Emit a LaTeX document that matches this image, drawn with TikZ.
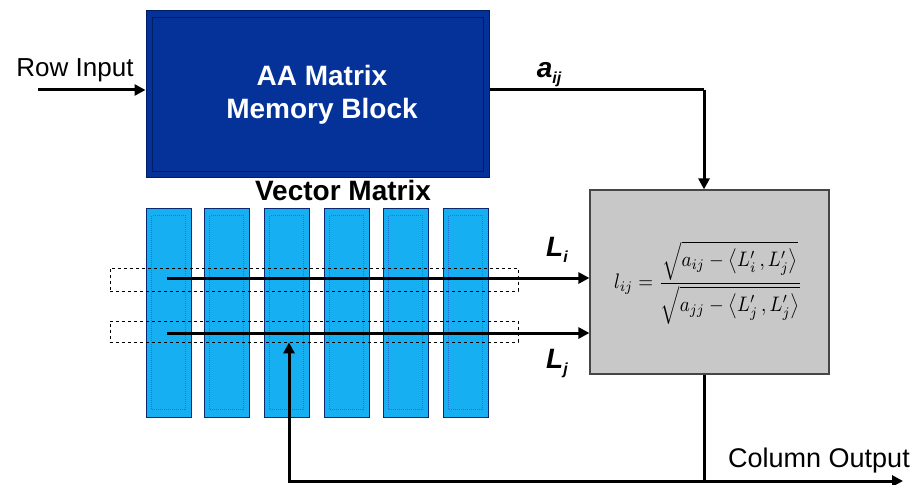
\documentclass[tikz,border=0pt]{standalone}
\usepackage{fontspec}
\setmainfont{Liberation Sans}
\usetikzlibrary{arrows.meta,calc}
\definecolor{memblue}{RGB}{4,50,152}
\definecolor{memedge}{RGB}{0,28,100}
\definecolor{colblue}{RGB}{22,176,242}
\definecolor{coledge}{RGB}{12,40,110}
\definecolor{coldot}{RGB}{30,118,214}
\definecolor{calcgray}{RGB}{200,200,200}
\definecolor{calcedge}{RGB}{70,70,70}
\tikzset{
  arr/.style={line width=3pt,-{Triangle[length=11pt,width=11pt]}},
  wire/.style={line width=3pt},
  membox/.style={draw=memedge,fill=memblue,line width=1pt,minimum width=343pt,minimum height=166pt,inner sep=0pt},
  colbox/.style={draw=coledge,fill=colblue,line width=1pt,minimum width=45pt,minimum height=209pt,inner sep=0pt},
  coldots/.style={draw=coldot,line width=1pt,densely dotted},
  rowbox/.style={draw=black,dashed,line width=0.8pt,minimum width=408pt,inner sep=0pt},
  calcbox/.style={draw=calcedge,fill=calcgray,line width=1.2pt,minimum width=239pt,minimum height=184pt,inner sep=0pt},
  lbl/.style={font=\fontsize{26}{30}\selectfont,inner sep=0pt},
  blbl/.style={font=\fontsize{28}{32}\selectfont\bfseries,inner sep=0pt},
  wlbl/.style={font=\fontsize{28}{32}\selectfont\bfseries,text=white,inner sep=0pt},
}
\begin{document}
\begin{tikzpicture}[x=1pt,y=-1pt]
\useasboundingbox (0,0) rectangle (917,484);
% memory block
\node[membox] (mem) at (317.5,94) {};
\draw[memedge,line width=0.8pt] (152,17) rectangle (483,171);
\node[wlbl,anchor=base] (memt1) at (322,86) {AA Matrix};
\node[wlbl,anchor=base] (memt2) at (322,118) {Memory Block};
% row input
\node[lbl] (rowlbl) at (75,70) {Row Input};
\coordinate (rin) at (38,90);
\draw[arr] (rin) -- (mem.west |- rin);
% a_ij
\node[inner sep=0pt] (alab) at (549,75) {\fontsize{28}{32}\selectfont\bfseries\itshape a\raisebox{-6pt}{\fontsize{16}{18}\selectfont ij}};
\coordinate (aturn) at (704,90);
% calc box
\node[calcbox] (calc) at (709.5,282) {};
\draw[wire] (mem.east |- aturn) -- (aturn);
\draw[arr] (aturn) -- (calc.north -| aturn);
\node[inner sep=0pt] (formula) at (708,283) {\scalebox{1.9}[2.1]{$\displaystyle l_{ij}=\frac{\sqrt{a_{ij}-\left\langle L'_i\,,L'_j\right\rangle}}{\sqrt{a_{jj}-\left\langle L'_j\,,L'_j\right\rangle}}$}};
% vector matrix
\node[blbl] (vmlbl) at (343,190) {Vector Matrix};
\foreach \i/\x in {1/168.5,2/226.5,3/286.5,4/346.5,5/405.5,6/465.5}{
  \node[colbox] (col\i) at (\x,312.5) {};
  \draw[coldots] ($(col\i.north west)+(6,8)$) rectangle ($(col\i.south east)+(-6,-8)$);
}
\node[rowbox,minimum height=23pt] (rowi) at (314,279.5) {};
\node[rowbox,minimum height=21pt] (rowj) at (314,331.5) {};
\coordinate (li) at (167,278);
\coordinate (lj) at (167,333);
\draw[arr] (li) -- (calc.west |- li);
\draw[arr] (lj) -- (calc.west |- lj);
\node[inner sep=0pt] (lilab) at (557,250) {\fontsize{28}{32}\selectfont\bfseries\itshape L\raisebox{-6pt}{\fontsize{16}{18}\selectfont i}};
\node[inner sep=0pt] (ljlab) at (557,364) {\fontsize{28}{32}\selectfont\bfseries\itshape L\raisebox{-6pt}{\fontsize{16}{18}\selectfont j}};
% feedback and output
\coordinate (oturn) at (704,481);
\coordinate (fb) at (289,481);
\coordinate (oend) at (903,481);
\draw[wire] (calc.south -| oturn) -- (oturn);
\draw[arr] (oturn) -- (fb) -- (rowj.south -| fb);
\draw[arr] (oturn) -- (oend);
\node[lbl,font=\fontsize{27}{30}\selectfont] (outlbl) at (819,461) {Column Output};
\end{tikzpicture}
\end{document}
